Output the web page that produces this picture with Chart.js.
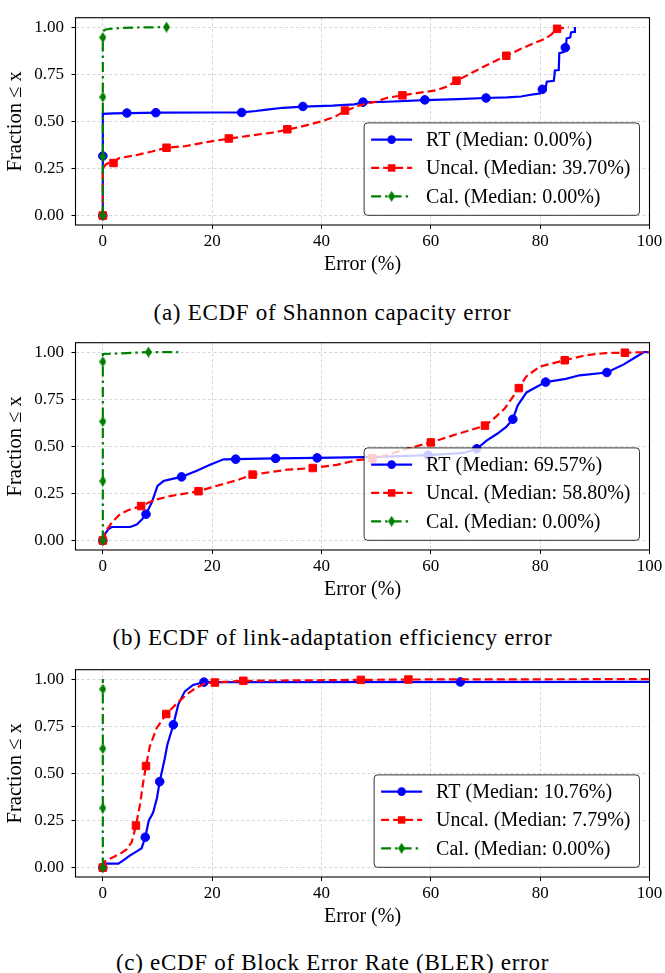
<!DOCTYPE html>
<html><head><meta charset="utf-8">
<script src="https://cdn.jsdelivr.net/npm/chart.js@4.4.0/dist/chart.umd.min.js"></script>
<style>
html,body{margin:0;padding:0;background:#fff;}
body{width:665px;height:973px;position:relative;overflow:hidden;}
.panel{position:absolute;left:0;width:665px;height:280px;}
.cap{position:absolute;left:0;width:665px;text-align:center;font-family:"Liberation Serif","Times New Roman",serif;font-size:23px;line-height:26px;color:#000;white-space:nowrap;letter-spacing:0.7px;}
</style></head><body>
<div class="panel" style="top:0px"><canvas id="ca" width="665" height="280"></canvas></div>
<div class="cap" style="top:300px">(a) ECDF of Shannon capacity error</div>
<div class="panel" style="top:325px"><canvas id="cb" width="665" height="280"></canvas></div>
<div class="cap" style="top:625px">(b) ECDF of link-adaptation efficiency error</div>
<div class="panel" style="top:652px"><canvas id="cc" width="665" height="280"></canvas></div>
<div class="cap" style="top:950px">(c) eCDF of Block Error Rate (BLER) error</div>
<script>
// ---------------- data ----------------
const xTicks = [0, 20, 40, 60, 80, 100];
const yTicks = [0, 0.25, 0.5, 0.75, 1];
const seriesNames = ['RT', 'Uncal.', 'Cal.'];
const mediansA = ['0.00', '39.70', '0.00'];
const mediansB = ['69.57', '58.80', '0.00'];
const mediansC = ['10.76', '7.79', '0.00'];

// (a) Shannon capacity error
const aRtX = [0,0,2,5,10,20,25.5,28,30,33,36.6,42,46,47.6,52,58.9,65,70,74,76.5,78,80,80.2,81,81.2,82.5,82.7,83.4,83.5,84.3,84.6,84.7,84.85,85.5,85.65,86.2,86.35];
const aRtY = [0,0.54,0.542,0.544,0.546,0.547,0.548,0.555,0.562,0.572,0.578,0.583,0.59,0.601,0.604,0.613,0.618,0.624,0.627,0.632,0.64,0.648,0.665,0.675,0.71,0.715,0.77,0.772,0.862,0.868,0.89,0.9,0.94,0.945,0.972,0.975,1.0];
const aRtMarkX = [0,0,4.4,9.7,25.4,36.6,47.6,58.9,70.1,80.4,84.6];
const aRtMarkY = [0,0.316,0.544,0.546,0.547,0.579,0.602,0.614,0.624,0.67,0.891];
const aUnX = [0,0,0.5,1,2,3,6,9,11.65,15,19,23,27,31,33.75,36,40,42.5,44.3,47,50,52,54.8,58,61,63,64.7,67,70,73.8,76.5,79.3,81,82,83.1,84,85.2];
const aUnY = [0,0.25,0.27,0.279,0.285,0.305,0.32,0.34,0.36,0.368,0.39,0.408,0.425,0.44,0.456,0.47,0.5,0.525,0.555,0.585,0.605,0.625,0.638,0.652,0.665,0.685,0.715,0.75,0.795,0.848,0.885,0.92,0.94,0.96,0.99,0.995,1.0];
const aUnMarkX = [0,1.95,11.65,23.05,33.75,44.3,54.8,64.7,73.8,83.1];
const aUnMarkY = [0,0.279,0.36,0.409,0.458,0.557,0.638,0.716,0.848,0.991];
const aCalX = [0,0,0.3,1,3,6,11.7];
const aCalY = [0,0.975,0.985,0.99,0.995,0.998,1.0];
const aCalMarkX = [0,0,0,0,11.65];
const aCalMarkY = [0,0.313,0.629,0.945,1.0];

// (b) link-adaptation efficiency error
const bRtX = [0,0.5,1,1.6,5,6.2,7.1,7.9,9,10,11.1,12.3,14.4,17.2,19.6,22.1,24.3,31.6,39.2,50.8,59.5,66,68.4,70.2,72,73.8,75,75.9,77.5,79.3,81,84.7,87.2,92.2,95.3,97.5,99,100];
const bRtY = [0,0.04,0.06,0.072,0.072,0.085,0.11,0.14,0.205,0.29,0.316,0.325,0.338,0.371,0.402,0.431,0.432,0.436,0.439,0.444,0.453,0.465,0.487,0.53,0.564,0.603,0.644,0.718,0.786,0.815,0.841,0.858,0.877,0.892,0.935,0.974,1.0,1.0];
const bRtMarkX = [0,7.9,14.4,24.3,31.6,39.2,59.5,68.4,75,81,92.2];
const bRtMarkY = [0,0.14,0.338,0.432,0.436,0.439,0.453,0.487,0.644,0.841,0.892];
const bUnX = [0,0.4,1.6,3.2,4.7,7,9.3,12.3,17.5,20.9,24.5,27.4,33.7,38.4,42.8,46.5,49.3,50.8,55.6,60,64.7,69.9,71.4,73.5,76.1,77.5,79.9,84.5,88.3,91.9,95.5,100];
const bUnY = [0,0.043,0.094,0.142,0.162,0.183,0.214,0.236,0.262,0.291,0.32,0.35,0.376,0.385,0.402,0.427,0.436,0.444,0.487,0.521,0.564,0.61,0.644,0.7,0.809,0.872,0.923,0.957,0.983,0.995,0.997,1.0];
const bUnMarkX = [0,7,17.5,27.4,38.4,49.3,60,69.9,76.1,84.5,95.5];
const bUnMarkY = [0,0.183,0.262,0.35,0.385,0.436,0.521,0.61,0.809,0.957,0.997];
const bCalX = [0,0,3,8.35,13.8];
const bCalY = [0,0.99,0.993,1.0,1.0];
const bCalMarkX = [0,0,0,0,8.35];
const bCalMarkY = [0,0.316,0.632,0.949,1.0];

// (c) BLER error
const cRtX = [0,0.3,2.85,3.8,5,6.2,7.1,7.76,8.4,9.2,9.9,10.4,11.3,11.8,12.9,13.8,15,16.5,18.5,100];
const cRtY = [0,0.021,0.021,0.04,0.065,0.086,0.103,0.161,0.249,0.292,0.369,0.456,0.575,0.652,0.758,0.866,0.935,0.969,0.984,0.985];
const cRtMarkX = [0,7.76,10.4,12.9,18.5,65.4];
const cRtMarkY = [0,0.161,0.456,0.758,0.984,0.985];
const cUnX = [0,0.4,1.6,3.2,4.4,5.3,6.06,6.8,7.4,7.9,8.6,9.8,11.6,13.5,15.3,17.1,18.9,20.5,25.7,47.2,55.9,100];
const cUnY = [0,0.034,0.051,0.074,0.098,0.137,0.223,0.334,0.455,0.539,0.643,0.738,0.815,0.87,0.918,0.955,0.979,0.982,0.991,0.996,0.998,1.0];
const cUnMarkX = [0,6.06,7.9,11.6,20.5,25.7,47.2,55.9];
const cUnMarkY = [0,0.223,0.539,0.815,0.982,0.991,0.996,0.998];
const cCalX = [0,0];
const cCalY = [0,1.0];
const cCalMarkX = [0,0,0,0];
const cCalMarkY = [0,0.316,0.631,0.947];

// ---------------- styling ----------------
const SERIF = "'Liberation Serif'";
function thinDiamond(color, w, h) {
  const c = document.createElement('canvas');
  c.width = w; c.height = h;
  const g = c.getContext('2d');
  g.fillStyle = color;
  g.beginPath(); g.moveTo(w/2, 0); g.lineTo(w, h/2); g.lineTo(w/2, h); g.lineTo(0, h/2); g.closePath(); g.fill();
  return c;
}
const styles = [
  { color: '#0000ff', dash: [], marker: 'circle', radius: 4.3 },
  { color: '#ff0000', dash: [8, 4], marker: 'rect', radius: 5.3 },
  { color: '#008000', dash: [10, 4, 2.5, 4], marker: thinDiamond('#008000', 7, 11), radius: 4 }
];

function pts(xs, ys) { return xs.map((x, i) => ({ x: x, y: ys[i] })); }

function buildDatasets(series, medians) {
  const ds = [];
  series.forEach((s, i) => {
    const st = styles[i];
    ds.push({
      label: seriesNames[i] + ' (Median: ' + medians[i] + '%)',
      data: pts(s[0], s[1]),
      borderColor: st.color, borderWidth: 2.2, borderDash: st.dash,
      pointRadius: 0, fill: false, tension: 0, order: 6 - 2 * i
    });
    ds.push({
      label: '_m' + i,
      data: pts(s[2], s[3]),
      showLine: false, pointStyle: st.marker, pointRadius: st.radius,
      pointBackgroundColor: st.color, pointBorderColor: st.color, pointBorderWidth: 1,
      order: 5 - 2 * i
    });
  });
  return ds;
}

function drawMarker(ctx, i, x, y) {
  const st = styles[i];
  ctx.fillStyle = st.color;
  if (i === 0) { ctx.beginPath(); ctx.arc(x, y, st.radius, 0, Math.PI * 2); ctx.fill(); }
  else if (i === 1) { const s = st.radius * Math.SQRT1_2; ctx.fillRect(x - s, y - s, 2 * s, 2 * s); }
  else { const m = st.marker; ctx.drawImage(m, x - m.width / 2, y - m.height / 2); }
}

const framePlugin = {
  id: 'frameLegend',
  afterDatasetsDraw(chart) {
    const { ctx, chartArea: a } = chart;
    ctx.save();
    ctx.setLineDash([]);
    ctx.strokeStyle = '#000'; ctx.lineWidth = 1.1;
    ctx.strokeRect(a.left, a.top, a.right - a.left, a.bottom - a.top);
    ctx.restore();
  },
  afterDraw(chart) {
    const { ctx, chartArea: a } = chart;
    const entries = chart.data.datasets.filter(d => !d.label.startsWith('_m')).map(d => d.label);
    ctx.save();
    ctx.font = '20px ' + SERIF;
    const tw = Math.max(...entries.map(t => ctx.measureText(t).width));
    const w = 62 + tw + 9, h = 92.4;
    const x0 = a.right - 10 - w, y0 = a.bottom - 9.7 - h;
    const r = 3.5;
    ctx.beginPath();
    ctx.moveTo(x0 + r, y0); ctx.lineTo(x0 + w - r, y0); ctx.arcTo(x0 + w, y0, x0 + w, y0 + r, r);
    ctx.lineTo(x0 + w, y0 + h - r); ctx.arcTo(x0 + w, y0 + h, x0 + w - r, y0 + h, r);
    ctx.lineTo(x0 + r, y0 + h); ctx.arcTo(x0, y0 + h, x0, y0 + h - r, r);
    ctx.lineTo(x0, y0 + r); ctx.arcTo(x0, y0, x0 + r, y0, r); ctx.closePath();
    ctx.fillStyle = 'rgba(255,255,255,0.8)'; ctx.fill();
    ctx.strokeStyle = 'rgba(0,0,0,0.8)'; ctx.lineWidth = 1; ctx.setLineDash([]); ctx.stroke();
    entries.forEach((t, i) => {
      const cy = y0 + 16.7 + i * 28.35;
      const st = styles[i];
      ctx.save();
      ctx.strokeStyle = st.color; ctx.lineWidth = 2.2; ctx.setLineDash(st.dash);
      ctx.beginPath(); ctx.moveTo(x0 + 7, cy); ctx.lineTo(x0 + 48, cy); ctx.stroke();
      ctx.restore();
      drawMarker(ctx, i, x0 + 27.5, cy);
      ctx.fillStyle = '#000'; ctx.textBaseline = 'middle'; ctx.textAlign = 'left';
      ctx.fillText(t, x0 + 62, cy + 1);
    });
    ctx.restore();
  }
};

function makeChart(id, series, medians) {
  const gridCommon = { color: '#cccccc', lineWidth: 0.8, borderDash: [3, 2.5], tickLength: 4, tickColor: '#000', tickWidth: 1, tickBorderDash: [], drawTicks: true };
  return new Chart(document.getElementById(id), {
    type: 'line',
    data: { datasets: buildDatasets(series, medians) },
    options: {
      responsive: false, animation: false, events: [],
      layout: { padding: { top: 11, right: 15.5, left: 0, bottom: 0 } },
      plugins: { legend: { display: false }, tooltip: { enabled: false } },
      scales: {
        x: {
          type: 'linear', min: -5, max: 100,
          afterBuildTicks: s => { s.ticks = xTicks.map(v => ({ value: v })); },
          afterFit: s => { s.height = 55; },
          grid: Object.assign({}, gridCommon),
          border: { display: false, dash: [3, 2.5] },
          ticks: { color: '#000', font: { family: SERIF, size: 17 }, padding: 2.5, maxRotation: 0, autoSkip: false, callback: v => String(v) },
          title: { display: true, text: 'Error (%)', color: '#000', font: { family: SERIF, size: 20 }, padding: { top: 0, bottom: 3 } }
        },
        y: {
          type: 'linear', min: -0.05, max: 1.05,
          afterBuildTicks: s => { s.ticks = yTicks.map(v => ({ value: v })); },
          afterFit: s => { s.width = 75.5; },
          grid: Object.assign({}, gridCommon),
          border: { display: false, dash: [3, 2.5] },
          ticks: { color: '#000', font: { family: SERIF, size: 17 }, padding: 7.5, autoSkip: false, callback: v => Number(v).toFixed(2) },
          title: { display: true, text: 'Fraction \u2264 x', color: '#000', font: { family: SERIF, size: 20.5 }, padding: { top: 3, bottom: 0 } }
        }
      }
    },
    plugins: [framePlugin]
  });
}

function drawAll() {
  makeChart('ca', [[aRtX, aRtY, aRtMarkX, aRtMarkY], [aUnX, aUnY, aUnMarkX, aUnMarkY], [aCalX, aCalY, aCalMarkX, aCalMarkY]], mediansA);
  makeChart('cb', [[bRtX, bRtY, bRtMarkX, bRtMarkY], [bUnX, bUnY, bUnMarkX, bUnMarkY], [bCalX, bCalY, bCalMarkX, bCalMarkY]], mediansB);
  makeChart('cc', [[cRtX, cRtY, cRtMarkX, cRtMarkY], [cUnX, cUnY, cUnMarkX, cUnMarkY], [cCalX, cCalY, cCalMarkX, cCalMarkY]], mediansC);
}
setTimeout(drawAll, 300);
</script>
</body></html>
